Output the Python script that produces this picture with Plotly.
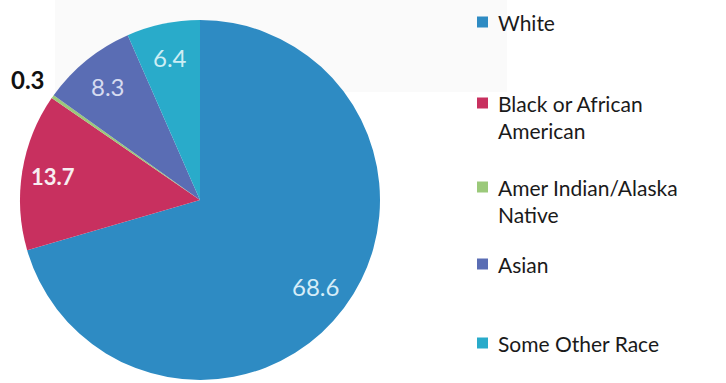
import math
import plotly.graph_objects as go

# Population share by race (percent)
categories = ["White", "Black or African American", "Amer Indian/Alaska Native",
              "Asian", "Some Other Race"]
legend_labels = ["White", "Black or African<br>American", "Amer Indian/Alaska<br>Native",
                 "Asian", "Some Other Race"]
values = [68.6, 13.7, 0.3, 8.3, 6.4]
colors = ["#2e8bc3", "#c8305f", "#9bc97a", "#5a6db4", "#29abca"]

W, H = 726, 383
CX, CY, R = 200, 200, 180  # pie centre and radius, in pixels

FONT = "Lato"

fig = go.Figure(go.Pie(
    labels=categories,
    values=values,
    sort=False,
    direction="clockwise",
    rotation=0,
    marker=dict(colors=colors, line=dict(width=0)),
    textinfo="none",
    hoverinfo="label+value",
    showlegend=False,
    domain=dict(x=[(CX - R) / W, (CX + R) / W],
                y=[1 - (CY + R) / H, 1 - (CY - R) / H]),
))

annotations = []
shapes = [
    # faint grey panel behind the top of the chart
    dict(type="rect", xref="paper", yref="paper",
         x0=55 / W, x1=507 / W, y0=1 - 92 / H, y1=1,
         fillcolor="#fafafa", line=dict(width=0), layer="below"),
]

# value labels placed along each slice's mid-angle
total = sum(values)
label_style = {
    0: dict(rf=0.80, color="#d6edf8", bold=False, size=24),
    1: dict(rf=0.83, color="#f7eef1", bold=True, size=22),
    2: dict(rf=1.17, color="#111111", bold=True, size=24),
    3: dict(rf=0.81, color="#d6dbf0", bold=False, size=24),
    4: dict(rf=0.81, color="#cdeef5", bold=False, size=24),
}
cum = 0.0
for i, v in enumerate(values):
    mid = (cum + v / 2) / total * 2 * math.pi
    cum += v
    st = label_style[i]
    px = CX + st["rf"] * R * math.sin(mid)
    py = CY - st["rf"] * R * math.cos(mid)
    txt = f"{v:.1f}"
    if st["bold"]:
        txt = f"<b>{txt}</b>"
    annotations.append(dict(
        x=px / W, y=1 - py / H, xref="paper", yref="paper",
        text=txt, showarrow=False, xanchor="center", yanchor="middle",
        font=dict(family=FONT, size=st["size"], color=st["color"]),
    ))

# legend drawn as coloured squares with wrapped labels
legend_rows = [22, 103, 187, 264, 343]   # first-line centre of each entry (px)
for lab, col, ry in zip(legend_labels, colors, legend_rows):
    shapes.append(dict(type="rect", xref="paper", yref="paper",
                       x0=477 / W, x1=488 / W,
                       y0=1 - (ry + 5.5) / H, y1=1 - (ry - 5.5) / H,
                       fillcolor=col, line=dict(width=0)))
    annotations.append(dict(
        x=496 / W, y=1 - (ry - 14) / H, xref="paper", yref="paper",
        text=lab, showarrow=False, xanchor="left", yanchor="top", align="left",
        font=dict(family=FONT, size=21, color="#1a1a1a"),
    ))

fig.update_layout(
    width=W, height=H,
    margin=dict(l=0, r=0, t=0, b=0),
    paper_bgcolor="white",
    plot_bgcolor="white",
    annotations=annotations,
    shapes=shapes,
)

fig.write_html("out.html")
